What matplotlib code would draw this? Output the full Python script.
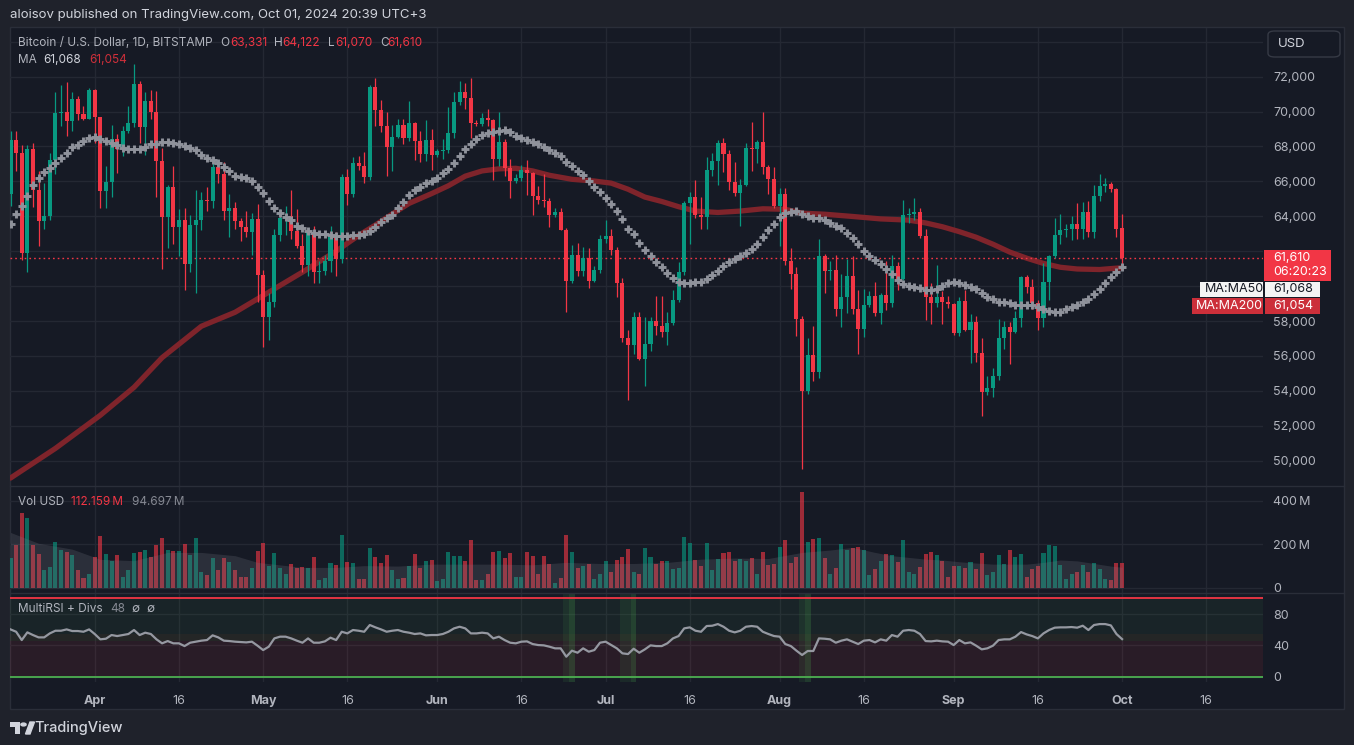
import numpy as np
import pandas as pd
import matplotlib
matplotlib.use("Agg")
import matplotlib.pyplot as plt
from matplotlib.patches import Rectangle, FancyBboxPatch, Polygon, Circle

W, H = 1354, 745

# ---- data (BTC/USD daily, Bitstamp, from 2024-03-17) ----
start_date = "2024-03-17"

opens = [65300, 68400, 67600, 61900, 67850, 65500, 63750, 64000, 67200, 69900,
         70000, 69450, 70750, 69850, 69600, 71250, 69700, 65450, 65950, 68450,
         67850, 68900, 69350, 71600, 69100, 70600, 70000, 67150, 63950, 65700,
         63400, 63800, 61250, 63500, 63800, 64950, 64900, 66850, 66400, 64300,
         64500, 63750, 63400, 63100, 63850, 60650, 58250, 59100, 62900, 63900,
         64000, 63150, 62300, 61200, 63100, 60800, 60850, 61450, 62950, 61550,
         66250, 65250, 67050, 66900, 66250, 71400, 70100, 69150, 67950, 68550,
         69250, 68500, 69350, 68300, 67550, 68350, 67500, 67750, 67800, 68800,
         70550, 71100, 70800, 69350, 69300, 69650, 69500, 67300, 68250, 66750,
         66000, 66200, 66650, 66500, 65150, 64950, 64850, 64100, 64250, 63200,
         60300, 61800, 60850, 61600, 60300, 60950, 62700, 62850, 62050, 60200,
         57050, 56650, 58250, 55850, 56700, 58000, 57700, 57350, 57900, 59200,
         60800, 64750, 65100, 64100, 63950, 66650, 67150, 68200, 67550, 65950,
         65350, 65800, 67900, 67850, 68250, 66800, 66150, 64600, 65300, 61450,
         60700, 58100, 54000, 56050, 55100, 61700, 60850, 60900, 58700, 59350,
         60600, 58700, 57550, 58900, 59450, 58450, 59500, 59050, 61150, 60400,
         64050, 64150, 64250, 62850, 59400, 59050, 59350, 59100, 58950, 57300,
         59150, 57500, 57950, 56150, 53950, 54150, 54850, 57050, 57650, 57350,
         58150, 60500, 59950, 59050, 58150, 60250, 61700, 62950, 63200, 63300,
         63550, 63300, 64250, 63100, 65150, 65750, 65850, 65550, 63331]
highs = [68900, 68900, 68100, 68100, 68200, 66600, 65900, 67600, 71100, 71500,
         71700, 71100, 70900, 70300, 71350, 71300, 69700, 66900, 69250, 68700,
         69150, 70300, 72700, 71750, 71150, 71250, 71200, 67900, 65800, 66900,
         64400, 64500, 64100, 65500, 65400, 65700, 67200, 67200, 67100, 65300,
         64800, 63900, 64300, 64200, 64700, 60900, 59600, 63300, 64400, 64600,
         65500, 64400, 63000, 63250, 63450, 61450, 61800, 63450, 63100, 66450,
         66700, 67400, 67450, 67700, 71500, 71950, 70650, 70000, 69250, 69550,
         69550, 70600, 69400, 68900, 69500, 69000, 67850, 68450, 70250, 71100,
         71750, 71650, 71950, 69500, 69900, 70150, 69550, 70000, 68450, 67300,
         66400, 66950, 67200, 66550, 65750, 66450, 65050, 64500, 64500, 63350,
         62350, 62450, 62250, 62200, 61150, 62900, 63800, 63250, 62250, 60450,
         57500, 58500, 58500, 58250, 58250, 59450, 59450, 58500, 59800, 61400,
         64900, 65400, 66100, 65100, 67400, 67600, 68400, 68500, 67800, 67100,
         66150, 68200, 69400, 68350, 70000, 66950, 66800, 65600, 65600, 62200,
         61100, 58300, 57050, 57700, 62700, 61850, 61450, 61800, 60700, 61550,
         61700, 59800, 59850, 59700, 60250, 59600, 61450, 61800, 61400, 64950,
         64500, 65050, 64500, 63250, 60200, 61200, 59700, 59450, 59050, 59400,
         59800, 58400, 58300, 57000, 54850, 55300, 58100, 58000, 57950, 58600,
         60600, 60650, 60400, 59200, 61300, 61800, 63900, 64150, 63550, 64000,
         64750, 64800, 64850, 65800, 66450, 66200, 65950, 65650, 64122]
lows = [64600, 66600, 61500, 60800, 64550, 62300, 63300, 63800, 66400, 69200,
        68600, 68900, 69500, 69500, 69550, 68200, 64500, 64500, 65100, 66500,
        67450, 68800, 69100, 68200, 67500, 69600, 65100, 61000, 62200, 62400,
        61700, 59800, 60800, 59600, 63200, 64300, 64500, 65900, 63800, 62800,
        63300, 62600, 62800, 61800, 59100, 56500, 56900, 58800, 62600, 62900,
        62700, 62200, 60800, 60600, 60200, 60200, 60650, 60800, 60600, 61300,
        64650, 65100, 66650, 65900, 66100, 69200, 68850, 66300, 66600, 68500,
        68150, 68300, 67250, 67100, 67150, 66650, 67400, 67300, 67600, 68500,
        70350, 70150, 68500, 69150, 69150, 69200, 66100, 66900, 66300, 65050,
        65900, 66050, 65200, 64100, 64700, 64550, 63400, 63950, 63200, 58500,
        60200, 60600, 60600, 59900, 60250, 60750, 62450, 61800, 59400, 56800,
        53500, 56100, 55750, 54300, 56300, 57200, 57100, 56600, 57750, 59100,
        60650, 62400, 63900, 63250, 63300, 66300, 65800, 66550, 65500, 65150,
        63450, 65750, 66600, 67050, 66450, 65300, 64500, 62300, 61200, 59850,
        57150, 49500, 53800, 54550, 54750, 59600, 60350, 58300, 57650, 58450,
        58400, 56100, 57100, 58800, 58300, 57850, 58650, 58800, 59800, 60350,
        63600, 63800, 62750, 58050, 57850, 58800, 57800, 58750, 57200, 57150,
        57450, 55600, 55650, 52550, 53750, 53650, 54600, 56400, 55550, 57300,
        57650, 59600, 58700, 57500, 57650, 59200, 61600, 62400, 62800, 62650,
        62700, 62700, 62800, 62750, 64850, 65400, 65400, 62800, 61070]
closes = [68400, 67600, 61900, 67850, 65500, 63750, 64000, 67200, 69900, 70000,
          69450, 70750, 69850, 69600, 71250, 69700, 65450, 65950, 68450, 67850,
          68900, 69350, 71600, 69100, 70600, 70000, 67150, 63950, 65700, 63400,
          63800, 61250, 63500, 63800, 64950, 64900, 66850, 66400, 64300, 64500,
          63750, 63400, 63100, 63850, 60650, 58250, 59100, 62900, 63900, 64000,
          63150, 62300, 61200, 63100, 60800, 60850, 61450, 62950, 61550, 66250,
          65250, 67050, 66900, 66250, 71400, 70100, 69150, 67950, 68550, 69250,
          68500, 69350, 68300, 67550, 68350, 67500, 67750, 67800, 68800, 70550,
          71100, 70800, 69350, 69300, 69650, 69500, 67300, 68250, 66750, 66000,
          66200, 66650, 66500, 65150, 64950, 64850, 64100, 64250, 63200, 60300,
          61800, 60850, 61600, 60300, 60950, 62700, 62850, 62050, 60200, 57050,
          56650, 58250, 55850, 56700, 58000, 57700, 57350, 57900, 59200, 60800,
          64750, 65100, 64100, 63950, 66650, 67150, 68200, 67550, 65950, 65350,
          65800, 67900, 67850, 68250, 66800, 66150, 64600, 65300, 61450, 60700,
          58100, 54000, 56050, 55100, 61700, 60850, 60900, 58700, 59350, 60600,
          58700, 57550, 58900, 59450, 58450, 59500, 59050, 61150, 60400, 64050,
          64150, 64250, 62850, 59400, 59050, 59350, 59100, 58950, 57300, 59150,
          57500, 57950, 56150, 53950, 54150, 54850, 57050, 57650, 57350, 58150,
          60500, 59950, 59050, 58150, 60250, 61700, 62950, 63200, 63300, 63550,
          63300, 64250, 63100, 65150, 65750, 65850, 65550, 63300, 61610]

volume_m = [137, 196, 345, 322, 196, 154, 80, 94, 211, 172,
            163, 149, 80, 43, 62, 140, 237, 157, 123, 149,
            52, 80, 160, 163, 172, 140, 196, 231, 172, 168,
            168, 200, 149, 231, 75, 57, 137, 80, 137, 117,
            80, 52, 52, 92, 168, 206, 99, 159, 89, 62,
            108, 89, 94, 89, 140, 34, 43, 112, 103, 243,
            117, 112, 39, 39, 182, 140, 112, 149, 80, 39,
            45, 99, 154, 89, 122, 126, 29, 39, 163, 145,
            145, 122, 219, 34, 34, 62, 163, 168, 135, 159,
            48, 52, 163, 145, 62, 145, 108, 20, 43, 242,
            163, 89, 99, 108, 39, 62, 122, 71, 126, 140,
            177, 71, 62, 182, 140, 108, 122, 122, 85, 89,
            233, 205, 126, 99, 205, 80, 131, 159, 163, 122,
            131, 122, 135, 62, 163, 103, 108, 186, 219, 112,
            140, 440, 209, 223, 228, 135, 62, 89, 200, 172,
            183, 186, 172, 57, 85, 122, 154, 149, 117, 219,
            75, 62, 94, 154, 163, 149, 122, 48, 99, 99,
            89, 117, 85, 159, 57, 71, 149, 108, 172, 140,
            154, 48, 85, 99, 159, 196, 191, 103, 39, 62,
            71, 103, 75, 112, 85, 39, 34, 112, 112.159]

vol_ma_idx = [0, 5, 11, 16, 22, 28, 34, 40, 44, 52, 58, 63, 69, 75, 81, 87, 93,
              99, 105, 111, 117, 123, 129, 135, 141, 146, 150, 154, 157, 160,
              163, 166, 169, 172, 175, 178, 181, 184, 187, 190, 193, 196, 198]
vol_ma_val = [255, 205, 178, 131, 125, 163, 163, 148, 117, 94, 94, 102, 100,
              109, 109, 109, 106, 117, 112, 112, 117, 132, 137, 135, 163, 174,
              186, 163, 148, 140, 132, 128, 120, 114, 109, 109, 109, 117, 128,
              124, 112, 100, 94.697]

ma50 = [63540, 64130, 64610, 65160, 65800, 66210, 66560, 66750, 67040, 67320,
        67650, 67950, 68090, 68300, 68470, 68560, 68430, 68330, 68220, 68070,
        67890, 67840, 67840, 67880, 67950, 68120, 68120, 68280, 68240, 68180,
        68140, 68050, 67910, 67800, 67510, 67360, 67230, 67040, 66840, 66600,
        66330, 66270, 66180, 66020, 65700, 65320, 64880, 64460, 64210, 63980,
        63790, 63450, 63310, 63180, 63060, 62990, 62970, 62930, 62890, 62870,
        62890, 62950, 62950, 62970, 63160, 63410, 63690, 63920, 64080, 64460,
        64840, 65220, 65510, 65700, 65890, 66040, 66210, 66500, 66730, 67070,
        67480, 67860, 68140, 68430, 68660, 68790, 68850, 68890, 68930, 68810,
        68620, 68510, 68370, 68280, 68120, 67990, 67800, 67610, 67480, 67130,
        66880, 66620, 66370, 66040, 65700, 65370, 65030, 64710, 64300, 63830,
        63270, 62970, 62490, 62070, 61740, 61360, 61080, 60730, 60480, 60260,
        60200, 60200, 60260, 60260, 60430, 60640, 60890, 61170, 61370, 61560,
        61730, 61880, 62110, 62420, 62840, 63220, 63560, 63980, 64170, 64270,
        64300, 64130, 64020, 63920, 63920, 63790, 63640, 63470, 63310, 63060,
        62780, 62390, 62010, 61730, 61500, 61270, 60960, 60680, 60350, 60120,
        60010, 59970, 59910, 59780, 59780, 59820, 60030, 60160, 60260, 60200,
        60070, 59970, 59820, 59630, 59400, 59250, 59110, 59110, 59020, 58920,
        58920, 58920, 58920, 58820, 58670, 58600, 58540, 58540, 58670, 58790,
        58920, 59070, 59260, 59530, 59840, 60160, 60500, 60790, 61068]

ma200_idx = [0, 8, 16, 22, 27, 34, 40, 46, 52, 58, 62, 65, 68, 71, 75, 78, 81,
             84, 87, 90, 93, 96, 100, 104, 107, 110, 113, 116, 119, 122, 126,
             130, 134, 138, 141, 145, 150, 155, 160, 163, 166, 169, 172, 175,
             178, 181, 184, 187, 190, 194, 198]
ma200_val = [49000, 50700, 52600, 54200, 55900, 57700, 58500, 59650, 60800,
             62000, 62900, 63500, 64130, 64740, 65300, 65750, 66300, 66600,
             66720, 66750, 66600, 66350, 66120, 66020, 65900, 65550, 65100,
             64850, 64550, 64300, 64220, 64300, 64430, 64400, 64180, 64120,
             63990, 63850, 63780, 63620, 63400, 63120, 62800, 62400, 61950,
             61600, 61300, 61080, 60980, 60950, 61054]

rsi = [60.4, 57.4, 46.8, 56.6, 53.2, 50.2, 50.2, 55.3, 58.7, 58.7,
       60.4, 58.3, 58.3, 57.4, 60.4, 54.5, 47.7, 48.5, 53.2, 51.9,
       53.2, 54.5, 59.6, 53.2, 56.2, 54.5, 47.7, 42.6, 45.5, 42.6,
       42.6, 39.1, 43.4, 44.7, 46.0, 46.8, 52.8, 50.2, 46.0, 45.5,
       44.7, 44.3, 43.8, 44.7, 39.6, 34.0, 38.3, 48.9, 51.1, 51.1,
       48.9, 46.0, 43.4, 48.9, 43.4, 43.4, 45.1, 49.8, 46.8, 57.4,
       55.3, 59.6, 58.7, 57.4, 66.0, 63.0, 60.4, 57.4, 58.7, 59.6,
       57.4, 56.2, 54.5, 55.3, 52.8, 53.2, 53.2, 54.5, 57.4, 61.7,
       63.8, 61.7, 55.3, 55.3, 56.2, 55.3, 48.9, 51.1, 46.8, 43.4,
       42.6, 44.7, 45.1, 41.7, 40.4, 40.0, 38.3, 36.2, 36.2, 25.5,
       33.2, 30.6, 36.2, 31.9, 34.0, 43.4, 44.7, 40.4, 36.2, 29.8,
       28.9, 35.7, 30.6, 34.9, 40.0, 39.1, 39.1, 42.6, 48.9, 51.9,
       61.7, 63.0, 58.7, 57.4, 64.7, 65.1, 67.2, 63.8, 58.7, 56.6,
       58.7, 63.8, 64.7, 63.8, 57.4, 54.5, 51.9, 51.1, 41.7, 39.1,
       33.2, 27.7, 32.8, 32.8, 48.9, 48.5, 47.7, 43.4, 46.0, 47.7,
       44.7, 41.7, 46.0, 46.8, 43.8, 47.7, 46.0, 53.2, 51.1, 58.7,
       59.6, 58.7, 54.5, 45.5, 45.1, 46.0, 45.1, 44.7, 40.4, 46.8,
       42.6, 43.8, 39.6, 34.9, 36.2, 39.6, 46.8, 47.7, 47.7, 51.1,
       57.0, 54.0, 51.9, 48.9, 55.3, 59.6, 62.6, 63.0, 63.0, 63.4,
       62.6, 65.1, 59.6, 66.0, 67.2, 67.2, 65.5, 54.5, 48.0]

rsi_oversold_bars = [99, 109, 110, 141]
rsi_signal_bars = [100, 111, 142]

price_ticks = list(range(50000, 74001, 2000))
hidden_price_labels = [60000, 62000, 74000]   # sit under the label boxes
vol_ticks = [0, 200, 400]
vol_tick_labels = ["0", "200\u2009M", "400\u2009M"]
rsi_ticks = [0, 40, 80]

# ---- style ----
BG = "#161a25"
OUTER = "#1f222b"
GRID = "#242833"
FRAME = "#2a2e39"
UP = "#089981"
DOWN = "#f23645"
TXT = "#b2b5be"
WHITE = "#d1d4dc"
LEG = 8.5

plt.rcParams["font.family"] = ["Inter", "DejaVu Sans"]


def rect(x0, y0, x1, y1):
    return [x0 / W, 1 - y1 / H, (x1 - x0) / W, (y1 - y0) / H]


def ftext(x, y, s, **kw):
    kw.setdefault("va", "center")
    kw.setdefault("ha", "left")
    return fig.text(x / W, 1 - y / H, s, **kw)


def fbox(x0, y0, x1, y1, color, z=10, **kw):
    fig.add_artist(Rectangle((x0 / W, 1 - y1 / H), (x1 - x0) / W, (y1 - y0) / H,
                             transform=fig.transFigure, facecolor=color,
                             edgecolor="none", zorder=z, **kw))


fig = plt.figure(figsize=(W / 100, H / 100), dpi=100, facecolor=OUTER)

# chart frame
fig.add_artist(Rectangle((10 / W, 1 - 709 / H), 1334 / W, 682 / H,
                         transform=fig.transFigure, facecolor=BG,
                         edgecolor=FRAME, lw=1, zorder=0))

ax_p = fig.add_axes(rect(10, 28, 1263, 486))
ax_v = fig.add_axes(rect(10, 486, 1263, 593), sharex=ax_p)
ax_r = fig.add_axes(rect(10, 593, 1263, 682), sharex=ax_p)

n = len(closes)
idx = np.arange(n)
o = np.array(opens, dtype=float)
c = np.array(closes, dtype=float)
colors = np.where(c >= o, UP, DOWN)

dates = pd.date_range(start_date, periods=224, freq="D")
tick_pos = [i for i, d in enumerate(dates) if d.day in (1, 16)]
tick_lab = [d.strftime("%b") if d.day == 1 else "16" for d in dates if d.day in (1, 16)]

for ax in (ax_p, ax_v, ax_r):
    ax.set_facecolor("none")
    for s in ax.spines.values():
        s.set_visible(False)
    ax.yaxis.tick_right()
    ax.tick_params(axis="both", length=0, labelsize=9, labelcolor=TXT)
    ax.tick_params(axis="y", pad=7.2)
    ax.set_xticks(tick_pos)
    ax.grid(True, color=GRID, lw=1)
    ax.set_axisbelow(True)

ax_p.set_xlim(-0.09, 223.1)
ax_p.tick_params(labelbottom=False)
ax_v.tick_params(labelbottom=False)

# ---- price pane ----
ax_p.set_ylim(48545, 74790)
ax_p.set_yticks(price_ticks)
ax_p.set_yticklabels(["" if v in hidden_price_labels else f"{v:,}" for v in price_ticks])

ax_p.plot(ma200_idx, ma200_val, color="#7f242b", lw=3.8, zorder=2,
          solid_capstyle="round")
ax_p.axhline(closes[-1], color=DOWN, lw=1, ls=(0, (1.2, 2.2)), zorder=2)
ax_p.vlines(idx, lows, highs, colors=colors, lw=0.9, zorder=3)
ax_p.bar(idx, np.maximum(np.abs(c - o), 45), bottom=np.minimum(o, c),
         width=0.72, color=colors, zorder=4)
ax_p.plot(idx, ma50, ls="none", marker="+", ms=5.5, mew=2.1,
          color="#8f929b", zorder=5)

# ---- volume pane ----
ax_v.set_ylim(-24, 469)
ax_v.set_yticks(vol_ticks)
ax_v.set_yticklabels(vol_tick_labels)
ax_v.bar(idx, volume_m, width=0.72, color=colors, alpha=0.62, zorder=2)
ax_v.fill_between(vol_ma_idx, 0, vol_ma_val, color="#787b86", alpha=0.22,
                  lw=0, zorder=3)

# ---- RSI pane ----
ax_r.set_ylim(-6.8, 106.9)
ax_r.set_yticks(rsi_ticks)
ax_r.set_xticklabels(tick_lab)
ax_r.tick_params(axis="x", pad=9.5)
for lbl, txt in zip(ax_r.get_xticklabels(), tick_lab):
    if txt != "16":
        lbl.set_fontweight("bold")
ax_r.axhspan(55, 100, color="#4caf50", alpha=0.07, lw=0, zorder=1)
ax_r.axhspan(45, 55, color="#c9b83a", alpha=0.08, lw=0, zorder=1)
ax_r.axhspan(0, 45, color="#f23645", alpha=0.09, lw=0, zorder=1)
for b in rsi_oversold_bars:
    ax_r.axvspan(b - 0.5, b + 0.5, color="#4caf50", alpha=0.10, lw=0, zorder=1)
for b in rsi_signal_bars:
    ax_r.axvspan(b - 0.5, b + 0.5, color="#4caf50", alpha=0.22, lw=0, zorder=1)
ax_r.axhline(100, color=DOWN, lw=1.3, zorder=2)
ax_r.axhline(0, color="#4caf50", lw=1.3, zorder=2)
ax_r.plot(idx, rsi, color="#9598a1", lw=1.6, zorder=4)

# pane separators
for y in (486, 593):
    fig.add_artist(plt.Line2D([10 / W, 1344 / W], [1 - y / H, 1 - y / H],
                              transform=fig.transFigure, color=FRAME, lw=1))

# ---- header and legends ----
ftext(10, 15, "aloisov published on TradingView.com, Oct 01, 2024 20:39 UTC+3",
      color=WHITE, size=9.5)
ftext(18, 43, "Bitcoin / U.S. Dollar, 1D, BITSTAMP", color=TXT, size=LEG)
for x, s, col in [(220.5, "O", TXT), (230, "63,331", DOWN),
                  (274, "H", TXT), (282, "64,122", DOWN),
                  (328, "L", TXT), (335, "61,070", DOWN),
                  (380, "C", TXT), (387, "61,610", DOWN)]:
    ftext(x, 43, s, color=col, size=LEG)
ftext(18, 60, "MA", color=TXT, size=LEG)
ftext(43, 60, "61,068", color=WHITE, size=LEG)
ftext(89, 60, "61,054", color="#cf2f3a", size=LEG)

ftext(18, 502, "Vol USD", color=TXT, size=LEG)
ftext(71, 502, "112.159\u2009M", color=DOWN, size=LEG)
ftext(132, 502, "94.697\u2009M", color="#868993", size=LEG)

ftext(18, 609, "MultiRSI + Divs", color=TXT, size=LEG)
ftext(110, 609, "48", color="#868993", size=LEG)
ftext(131, 609, "\u2205", color=TXT, size=LEG)
ftext(146, 609, "\u2205", color=TXT, size=LEG)

# ---- right axis labels ----
fig.add_artist(FancyBboxPatch((1268 / W, 1 - 57 / H), 72 / W, 26 / H,
                              boxstyle="round,pad=0,rounding_size=0.005",
                              transform=fig.transFigure, facecolor=BG,
                              edgecolor="#363a45", lw=1, zorder=10))
ftext(1278, 44, "USD", color=WHITE, size=9.5, zorder=11)

fbox(1264, 250, 1331, 281, DOWN)
ftext(1273, 258, "61,610", color="white", size=9, zorder=11)
ftext(1273, 272, "06:20:23", color="white", size=9, zorder=11)

fbox(1200, 282, 1263, 297, "#f4f4f4")
ftext(1205, 289.5, "MA:MA50", color="#131722", size=9, zorder=11)
fbox(1265, 282, 1320, 297, "#f4f4f4")
ftext(1273, 289.5, "61,068", color="#131722", size=9, zorder=11)

fbox(1192, 298, 1263, 314, "#cc2f3a")
ftext(1196, 306, "MA:MA200", color="white", size=9, zorder=11)
fbox(1265, 298, 1320, 314, "#cc2f3a")
ftext(1273, 306, "61,054", color="white", size=9, zorder=11)

# ---- TradingView logo ----
logo_col = WHITE
fbox(10, 722, 20, 727, logo_col, z=5)
fbox(15, 722, 20, 734, logo_col, z=5)
fig.add_artist(Circle((23.5 / W, 1 - 724.5 / H), 2.6 / W,
                      transform=fig.transFigure, color=logo_col, zorder=5))
fig.add_artist(Polygon([(25.5 / W, 1 - 734 / H), (30 / W, 1 - 734 / H),
                        (34.5 / W, 1 - 722 / H), (30 / W, 1 - 722 / H)],
                       closed=True, transform=fig.transFigure,
                       color=logo_col, zorder=5))
ftext(34, 728, "TradingView", color=logo_col, size=10.5, weight="medium")

fig.savefig("out.png", dpi=100, facecolor=OUTER)
